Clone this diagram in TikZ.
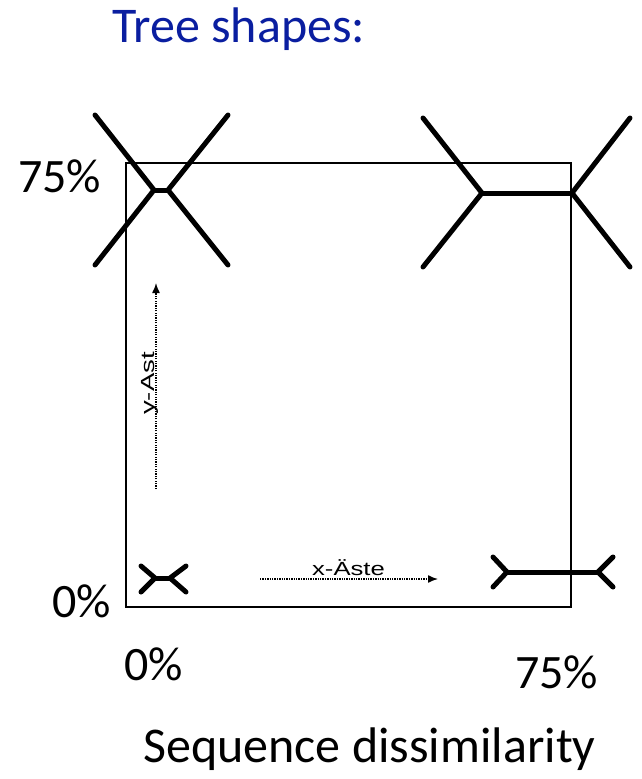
\documentclass[tikz,border=0pt]{standalone}
\usepackage{fontspec}
\usepackage{graphicx}
\setmainfont{Carlito}
\newfontfamily\arialf{Liberation Sans}
\usetikzlibrary{arrows.meta}
\definecolor{titleblue}{RGB}{10,30,160}
\tikzset{
  branch/.style={line width=5pt, line cap=round, line join=round},
  axislbl/.style={font=\fontsize{48}{52}\selectfont, inner sep=0pt, anchor=base west},
  biglbl/.style={font=\fontsize{50}{54}\selectfont, inner sep=0pt, anchor=base west},
  helper/.style={dash pattern=on 1.3pt off 1.1pt, line width=1.4pt, -{Latex[length=10pt,width=8pt]}},
  small/.style={font=\arialf\fontsize{19}{21}\selectfont, inner sep=0pt}
}
\begin{document}
\begin{tikzpicture}[x=1pt,y=-1pt]
\useasboundingbox (0,0) rectangle (642,779);
% title
\node[biglbl, text=titleblue] (title) at (112,42) {Tree shapes:};
% frame
\draw[line width=1.2pt] (126,163) rectangle (571,607);
% axis labels
\node[axislbl] (l75) at (18,192) {75\%};
\node[axislbl] (l0) at (52,617) {0\%};
\node[axislbl] (b0) at (124,680) {0\%};
\node[axislbl] (b75) at (515,688) {75\%};
\node[biglbl] (xlab) at (143,762) {Sequence dissimilarity};
% top-left tree
\coordinate (a1) at (154,190); \coordinate (a2) at (168,190);
\draw[branch] (95,115) -- (a1) -- (95,265);
\draw[branch] (228,115) -- (a2) -- (228,265);
\draw[branch] (a1) -- (a2);
% top-right tree
\coordinate (b1) at (482,193); \coordinate (b2) at (572,193);
\draw[branch] (423,118) -- (b1) -- (423,267);
\draw[branch] (630,118) -- (b2) -- (630,267);
\draw[branch] (b1) -- (b2);
% bottom-left tree
\coordinate (c1) at (155,578); \coordinate (c2) at (170,578);
\draw[branch] (141,566) -- (c1) -- (141,592);
\draw[branch] (186,566) -- (c2) -- (186,592);
\draw[branch] (c1) -- (c2);
% bottom-right tree
\coordinate (d1) at (507,572); \coordinate (d2) at (598,572);
\draw[branch] (493,557) -- (d1) -- (493,587);
\draw[branch] (613,557) -- (d2) -- (613,587);
\draw[branch] (d1) -- (d2);
% helper arrows
\coordinate (ys) at (156,489); \coordinate (ye) at (156,283);
\draw[helper] (ys) -- (ye);
\node[small, rotate=90, anchor=base] (ylab) at (154,383.5) {\scalebox{1.45}[1]{y-Ast}};
\coordinate (xs) at (260,579); \coordinate (xe) at (438,579);
\draw[helper] (xs) -- (xe);
\node[small, anchor=base] (xlab2) at (348.5,575) {\scalebox{1.35}[1]{x-Äste}};
\end{tikzpicture}
\end{document}
